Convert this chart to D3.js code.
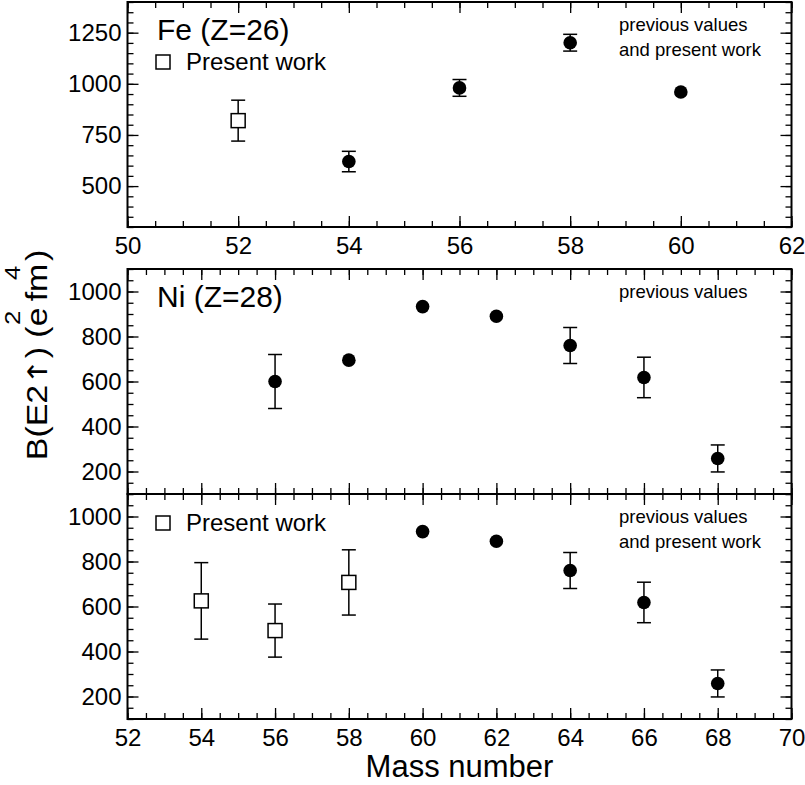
<!DOCTYPE html>
<html>
<head>
<meta charset="utf-8">
<script src="https://cdn.jsdelivr.net/npm/d3@7"></script>
<style>
  body { margin: 0; background: #fff; }
  svg { display: block; font-family: "Liberation Sans", Arial, Helvetica, sans-serif; }
</style>
</head>
<body>
<div id="chart"></div>
<script>
// Fe (Z=26)
const feMass = [54, 56, 58, 60];
const feValues = [620, 980, 1201, 960];
const feErrors = [50, 41, 41, 0];
const fePresentMass = [52];
const fePresentValues = [820];
const fePresentErrors = [100];

// Ni (Z=28), previous values
const niMass = [56, 58, 60, 62, 64, 66, 68];
const niValues = [600, 695, 933, 890, 760, 618, 258];
const niErrors = [120, 0, 0, 0, 80, 90, 60];

// Ni, present work
const niPresentMass = [54, 56, 58];
const niPresentValues = [625, 493, 707];
const niPresentErrors = [170, 118, 145];

// Ni, previous values shown with present work
const niCombinedMass = [60, 62, 64, 66, 68];

const feXTicks = [50, 52, 54, 56, 58, 60, 62];
const feYTicks = [500, 750, 1000, 1250];
const niXTicks = [52, 54, 56, 58, 60, 62, 64, 66, 68, 70];
const niYTicks = [200, 400, 600, 800, 1000];

const zip = (m, v, e) => m.map((d, i) => ({ x: d, y: v[i], e: e[i] }));
const niCombined = niCombinedMass.map(m => {
    const i = niMass.indexOf(m);
    return { x: m, y: niValues[i], e: niErrors[i] };
});

const width = 805, height = 785;
const left = 127.5, right = 791.5;

const svg = d3.select('#chart').append('svg')
    .attr('width', width)
    .attr('height', height);

const panels = [
    {
        top: 2, bottom: 227, xDomain: [50, 62], yDomain: [300, 1400],
        xTicks: feXTicks, xMinor: d3.range(50, 62.01, 0.5),
        yTicks: feYTicks, yMinor: d3.range(300, 1400.1, 50),
        showXLabels: true,
        filled: zip(feMass, feValues, feErrors),
        open: zip(fePresentMass, fePresentValues, fePresentErrors),
        title: 'Fe (Z=26)', legend: true, legendY: 55,
        note: ['previous values', 'and present work']
    },
    {
        top: 269, bottom: 494, xDomain: [52, 70], yDomain: [100, 1100],
        xTicks: niXTicks, xMinor: d3.range(52, 70.01, 0.5),
        yTicks: niYTicks, yMinor: d3.range(100, 1100.1, 50),
        showXLabels: false,
        filled: zip(niMass, niValues, niErrors),
        open: [],
        title: 'Ni (Z=28)', legend: false,
        note: ['previous values']
    },
    {
        top: 494, bottom: 719, xDomain: [52, 70], yDomain: [100, 1100],
        xTicks: niXTicks, xMinor: d3.range(52, 70.01, 0.5),
        yTicks: niYTicks, yMinor: d3.range(100, 1100.1, 50),
        showXLabels: true,
        filled: niCombined,
        open: zip(niPresentMass, niPresentValues, niPresentErrors),
        title: null, legend: true, legendY: 516,
        note: ['previous values', 'and present work']
    }
];

function drawPanel(p) {
    const x = d3.scaleLinear().domain(p.xDomain).range([left, right]);
    const y = d3.scaleLinear().domain(p.yDomain).range([p.bottom, p.top]);
    const g = svg.append('g');

    const style = sel => {
        sel.select('.domain').remove();
        sel.selectAll('line').attr('stroke', '#000').attr('stroke-width', 1.3);
        sel.selectAll('text').attr('fill', '#000').style('font-size', '24px')
            .style('font-family', '"Liberation Sans", Arial, sans-serif');
    };

    // minor ticks
    g.append('g').attr('transform', `translate(0,${p.bottom})`)
        .call(d3.axisBottom(x).tickValues(p.xMinor).tickSize(-6).tickFormat(''))
        .call(style);
    g.append('g').attr('transform', `translate(0,${p.top})`)
        .call(d3.axisTop(x).tickValues(p.xMinor).tickSize(-6).tickFormat(''))
        .call(style);
    g.append('g').attr('transform', `translate(${left},0)`)
        .call(d3.axisLeft(y).tickValues(p.yMinor).tickSize(-6).tickFormat(''))
        .call(style);
    g.append('g').attr('transform', `translate(${right},0)`)
        .call(d3.axisRight(y).tickValues(p.yMinor).tickSize(-6).tickFormat(''))
        .call(style);

    // major ticks
    g.append('g').attr('transform', `translate(0,${p.bottom})`)
        .call(d3.axisBottom(x).tickValues(p.xTicks).tickSize(-11).tickPadding(10)
            .tickFormat(p.showXLabels ? d3.format('d') : ''))
        .call(style);
    g.append('g').attr('transform', `translate(0,${p.top})`)
        .call(d3.axisTop(x).tickValues(p.xTicks).tickSize(-11).tickFormat(''))
        .call(style);
    g.append('g').attr('transform', `translate(${left},0)`)
        .call(d3.axisLeft(y).tickValues(p.yTicks).tickSize(-11).tickPadding(6).tickFormat(d3.format('d')))
        .call(style);
    g.append('g').attr('transform', `translate(${right},0)`)
        .call(d3.axisRight(y).tickValues(p.yTicks).tickSize(-11).tickFormat(''))
        .call(style);

    // frame
    g.append('rect')
        .attr('x', left).attr('y', p.top)
        .attr('width', right - left).attr('height', p.bottom - p.top)
        .attr('fill', 'none').attr('stroke', '#000').attr('stroke-width', 2);

    // error bars
    const all = p.filled.concat(p.open).filter(d => d.e > 0);
    const eb = g.append('g').attr('stroke', '#000').attr('stroke-width', 1.5);
    eb.selectAll('line.v').data(all).enter().append('line')
        .attr('x1', d => x(d.x)).attr('x2', d => x(d.x))
        .attr('y1', d => y(d.y - d.e)).attr('y2', d => y(d.y + d.e));
    eb.selectAll('line.t').data(all).enter().append('line')
        .attr('x1', d => x(d.x) - 7).attr('x2', d => x(d.x) + 7)
        .attr('y1', d => y(d.y + d.e)).attr('y2', d => y(d.y + d.e));
    eb.selectAll('line.b').data(all).enter().append('line')
        .attr('x1', d => x(d.x) - 7).attr('x2', d => x(d.x) + 7)
        .attr('y1', d => y(d.y - d.e)).attr('y2', d => y(d.y - d.e));

    // filled circles (previous values)
    g.selectAll('circle.prev').data(p.filled).enter().append('circle')
        .attr('class', 'prev')
        .attr('cx', d => x(d.x)).attr('cy', d => y(d.y))
        .attr('r', 6.8).attr('fill', '#000');

    // open squares (present work)
    g.selectAll('rect.present').data(p.open).enter().append('rect')
        .attr('class', 'present')
        .attr('x', d => x(d.x) - 7).attr('y', d => y(d.y) - 7)
        .attr('width', 14).attr('height', 14)
        .attr('fill', '#fff').attr('stroke', '#000').attr('stroke-width', 1.5);

    if (p.title) {
        g.append('text')
            .attr('x', 157).attr('y', p.top + 38)
            .style('font-size', '30px')
            .text(p.title);
    }
    if (p.legend) {
        g.append('rect')
            .attr('x', 156).attr('y', p.legendY)
            .attr('width', 14).attr('height', 14)
            .attr('fill', '#fff').attr('stroke', '#000').attr('stroke-width', 1.5);
        g.append('text')
            .attr('x', 186).attr('y', p.legendY + 15)
            .style('font-size', '24px')
            .text('Present work');
    }
    g.selectAll('text.note').data(p.note).enter().append('text')
        .attr('class', 'note')
        .attr('x', 619).attr('y', (d, i) => p.top + 29 + i * 25)
        .style('font-size', '18.5px')
        .text(d => d);
}

panels.forEach(drawPanel);

// axis titles
svg.append('text')
    .attr('x', (left + right) / 2).attr('y', 777)
    .attr('text-anchor', 'middle')
    .style('font-size', '31px')
    .text('Mass number');

const yTitle = svg.append('text')
    .attr('transform', 'translate(47,355) rotate(-90) scale(1.17,1)')
    .attr('text-anchor', 'middle')
    .style('font-size', '29px');
yTitle.append('tspan').text('B(E2');
yTitle.append('tspan').style('font-family', '"DejaVu Sans", sans-serif').style('font-size', '27px').text('\u2191');
yTitle.append('tspan').text(') (e');
yTitle.append('tspan').attr('dx', -15).attr('dy', -27).style('font-size', '22px').text('2');
yTitle.append('tspan').attr('dx', 8).attr('dy', 27).text('fm');
yTitle.append('tspan').attr('dx', -14).attr('dy', -27).style('font-size', '22px').text('4');
yTitle.append('tspan').attr('dx', 4).attr('dy', 27).text(')');
</script>
</body>
</html>
